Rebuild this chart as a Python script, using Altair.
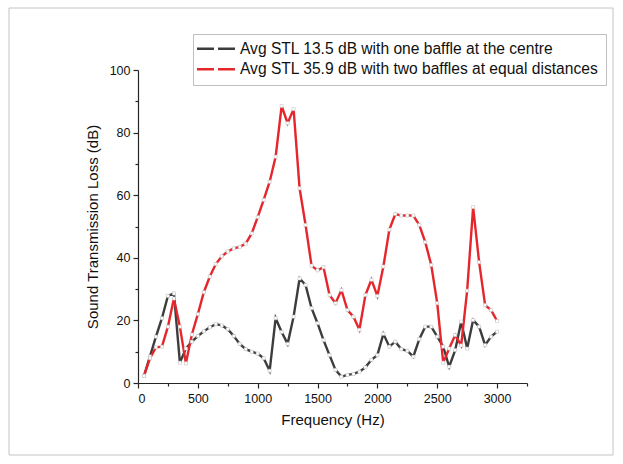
import altair as alt
import pandas as pd

freq = [50, 100, 150, 200, 250, 300, 350, 400, 450, 500,
        550, 600, 650, 700, 750, 800, 850, 900, 950, 1000,
        1050, 1100, 1150, 1200, 1250, 1300, 1350, 1400, 1450, 1500,
        1550, 1600, 1650, 1700, 1750, 1800, 1850, 1900, 1950, 2000,
        2050, 2100, 2150, 2200, 2250, 2300, 2350, 2400, 2450, 2500,
        2550, 2600, 2650, 2700, 2750, 2800, 2850, 2900, 2950, 3000]

stl_one_baffle = [2.3, 8.5, 14.8, 20.7, 27.8, 28.6, 6.5, 11.0, 13.2, 15.0,
                  16.5, 17.8, 18.8, 18.4, 17.2, 15.0, 12.5, 10.8, 10.0, 9.4,
                  7.9, 3.9, 20.7, 16.3, 12.5, 21.2, 33.4, 31.3, 23.9, 19.1,
                  13.7, 8.9, 4.2, 2.0, 2.6, 2.9, 3.6, 5.0, 7.4, 8.9,
                  15.7, 11.6, 13.2, 10.8, 10.3, 8.4, 14.0, 18.0, 18.0, 14.8,
                  11.6, 5.2, 10.5, 19.6, 11.0, 20.1, 18.0, 12.1, 14.8, 16.4]

stl_two_baffles = [2.3, 7.9, 11.4, 11.6, 18.0, 27.0, 18.0, 6.3, 15.5, 22.0,
                   29.0, 34.0, 38.0, 40.5, 42.0, 43.0, 43.5, 44.5, 47.8, 53.0,
                   58.5, 64.3, 72.3, 88.5, 83.0, 87.5, 62.2, 50.5, 37.5, 36.0,
                   37.0, 28.1, 25.5, 29.7, 23.3, 21.2, 17.0, 28.1, 33.0, 27.8,
                   37.2, 49.0, 54.0, 53.5, 53.5, 53.5, 50.5, 45.0, 37.7, 25.5,
                   6.5, 11.0, 15.3, 12.0, 29.5, 56.2, 38.6, 24.9, 23.3, 19.8]

series_names = ["Avg STL 13.5 dB with one baffle at the centre",
                "Avg STL 35.9 dB with two baffles at equal distances"]
series_colors = ["#3c3c3c", "#e5262c"]

x_major = [0, 500, 1000, 1500, 2000, 2500, 3000]
x_minor = [250, 750, 1250, 1750, 2250, 2750, 3250]
y_major = [0, 20, 40, 60, 80, 100]
y_minor = [10, 30, 50, 70, 90]

df = pd.concat([
    pd.DataFrame({"freq": freq, "stl": stl_one_baffle, "series": series_names[0], "k": 0}),
    pd.DataFrame({"freq": freq, "stl": stl_two_baffles, "series": series_names[1], "k": 1}),
], ignore_index=True)

FONT = "Liberation Sans"
xscale = alt.Scale(domain=[0, 3250], nice=False, zero=False)
yscale = alt.Scale(domain=[0, 100], nice=False)

frame = alt.Chart(pd.DataFrame({"a": [0]})).mark_rect(
    fillOpacity=0, stroke="#c4c4c4", strokeWidth=1
).encode(
    x=alt.value(-129), x2=alt.value(475), y=alt.value(-62), y2=alt.value(385)
)

lines = alt.Chart(df).mark_line(strokeWidth=2.4).encode(
    x=alt.X("freq:Q", scale=xscale,
            axis=alt.Axis(values=x_major, orient="bottom", title="Frequency (Hz)",
                          format="d", tickSize=5, labelPadding=4, titlePadding=8, grid=False)),
    y=alt.Y("stl:Q", scale=yscale,
            axis=alt.Axis(values=y_major, orient="left", title="Sound Transmission Loss (dB)",
                          format="d", tickSize=5, labelPadding=3, titlePadding=9, grid=False)),
    color=alt.Color("series:N",
                    scale=alt.Scale(domain=series_names, range=series_colors),
                    legend=alt.Legend(title=None, orient="none", legendX=55, legendY=-36,
                                      symbolType="M-1.8,0H1.03M1.7,0H4.53",
                                      symbolSize=144, symbolStrokeWidth=2.4,
                                      labelOffset=24.4, padding=7, rowPadding=3.5,
                                      labelFontSize=15.6, labelFont=FONT, labelColor="#111111",
                                      labelLimit=600, strokeColor="#c0c0c0", fillColor="white")),
    order=alt.Order("k:Q"),
)

pts = alt.Chart(df).mark_point(
    shape="square", filled=True, fill="white", stroke="#b8b8b8", strokeWidth=0.5, size=10, opacity=1
).encode(
    x=alt.X("freq:Q", scale=xscale, axis=None),
    y=alt.Y("stl:Q", scale=yscale, axis=None),
    detail="series:N",
)

minor = alt.Chart(df).mark_point(opacity=0).encode(
    x=alt.X("freq:Q", scale=xscale,
            axis=alt.Axis(values=x_minor, orient="bottom", labels=False, domain=False,
                          tickSize=3, title="", grid=False)),
    y=alt.Y("stl:Q", scale=yscale,
            axis=alt.Axis(values=y_minor, orient="left", labels=False, domain=False,
                          tickSize=3, title="", grid=False)),
)

chart = alt.layer(frame, lines, pts, minor).resolve_axis(
    x="independent", y="independent"
).properties(
    width=389, height=313,
    padding={"left": 138, "top": 70, "right": 96, "bottom": 81},
    autosize=alt.AutoSizeParams(type="none"),
).configure_view(
    strokeWidth=0
).configure_axis(
    labelFont=FONT, titleFont=FONT, labelFontSize=12.5, titleFontSize=15,
    titleFontWeight="normal", labelColor="#111111", titleColor="#111111",
    domainColor="#262626", tickColor="#262626", domainWidth=1.2, tickWidth=1.2,
)

chart.save("out.html", embed_options={"renderer": "svg", "actions": False})
